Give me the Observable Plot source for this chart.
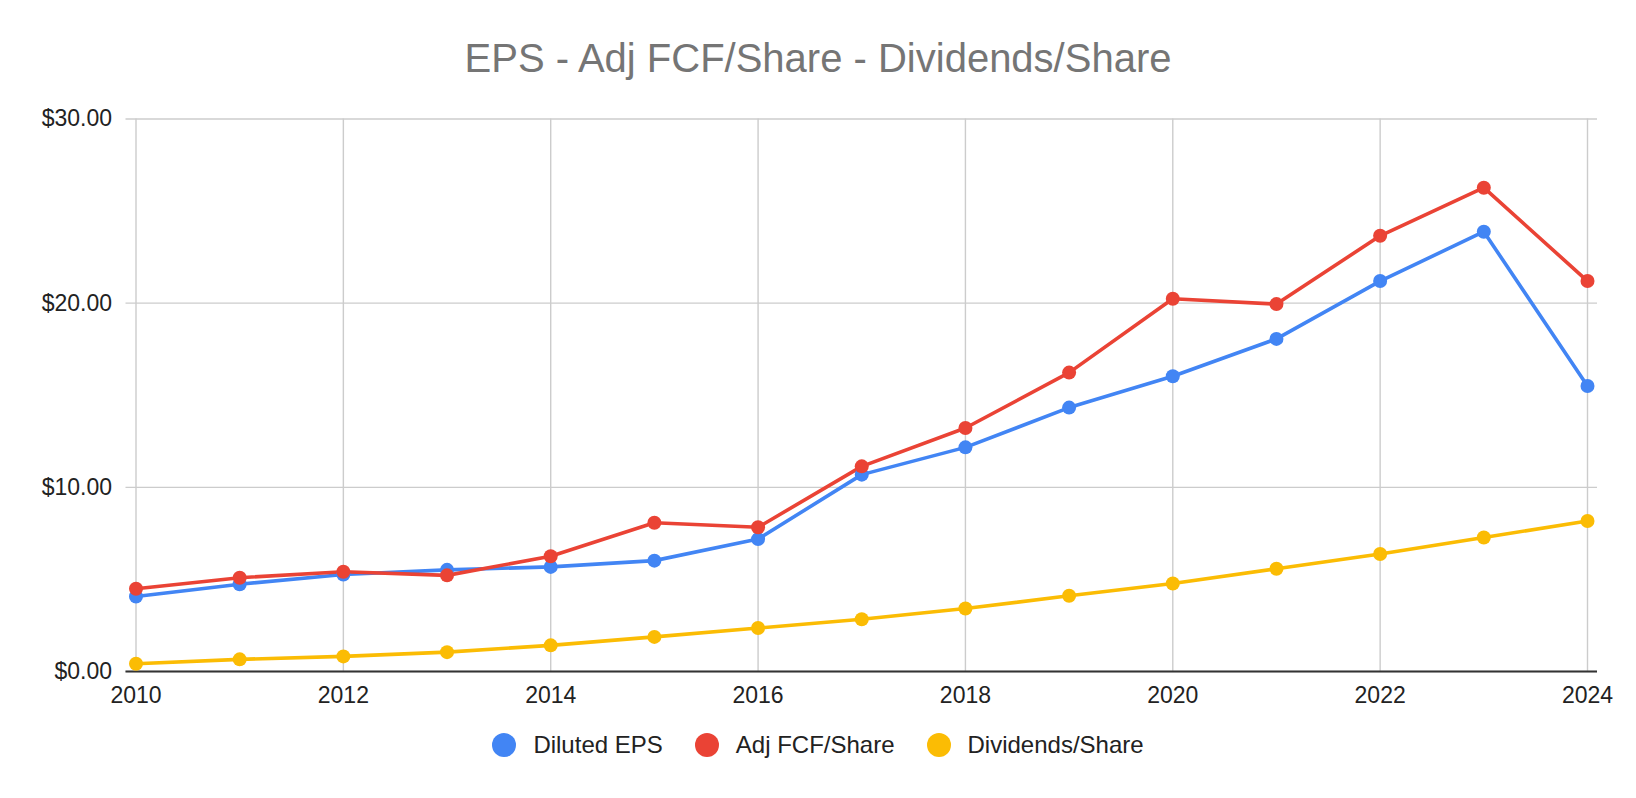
<!DOCTYPE html>
<html>
<head>
<meta charset="utf-8">
<script src="https://cdn.jsdelivr.net/npm/d3@7"></script>
<script src="https://cdn.jsdelivr.net/npm/@observablehq/plot@0.6"></script>
<style>
  html, body { margin: 0; padding: 0; background: #fff; }
  body { width: 1636px; height: 798px; position: relative; overflow: hidden; font-family: "Liberation Sans", Arial, sans-serif; }
  #title { position: absolute; left: 0; top: 38px; width: 1636px; text-align: center; font-size: 40px; line-height: 40px; color: #757575; white-space: nowrap; }
  #chart { position: absolute; left: 0; top: 100px; }
  #legend { position: absolute; left: 0; top: 731px; width: 1636px; height: 28px; display: flex; justify-content: center; align-items: center; font-size: 24px; color: #222; }
  .item { display: flex; align-items: center; margin: 0 16px; }
  .dot { width: 24px; height: 24px; border-radius: 50%; margin-right: 17px; }
</style>
</head>
<body>
<div id="title">EPS - Adj FCF/Share - Dividends/Share</div>
<div id="chart"></div>
<div id="legend"></div>
<script>
const years = [2010, 2011, 2012, 2013, 2014, 2015, 2016, 2017, 2018, 2019, 2020, 2021, 2022, 2023, 2024];
const dilutedEPS = [4.07, 4.74, 5.27, 5.52, 5.68, 6.02, 7.19, 10.69, 12.17, 14.33, 16.03, 18.06, 21.2, 23.88, 15.5];
const adjFCFPerShare = [4.49, 5.09, 5.42, 5.22, 6.26, 8.08, 7.83, 11.14, 13.22, 16.23, 20.24, 19.95, 23.66, 26.27, 21.2];
const dividendsPerShare = [0.42, 0.66, 0.82, 1.05, 1.42, 1.88, 2.36, 2.84, 3.42, 4.11, 4.78, 5.58, 6.38, 7.28, 8.17];
const seriesNames = ["Diluted EPS", "Adj FCF/Share", "Dividends/Share"];
const seriesColors = ["#4285F4", "#EA4335", "#FBBC04"];
const xTicks = [2010, 2012, 2014, 2016, 2018, 2020, 2022, 2024];
const yTicks = [0, 10, 20, 30];

const seriesValues = [dilutedEPS, adjFCFPerShare, dividendsPerShare];
const data = seriesNames.flatMap((name, i) => years.map((year, j) => ({series: name, year, value: seriesValues[i][j]})));

const chart = Plot.plot({
  width: 1636,
  height: 620,
  marginLeft: 125.5,
  marginRight: 39,
  marginTop: 18.5,
  marginBottom: 49,
  style: {fontFamily: "'Liberation Sans', Arial, sans-serif", fontSize: "23px", color: "#222", background: "transparent"},
  x: {domain: [2010, 2024], inset: 10, label: null},
  y: {domain: [0, 30], label: null},
  color: {domain: seriesNames, range: seriesColors},
  marks: [
    Plot.gridY(yTicks, {stroke: "#cccccc", strokeOpacity: 1, strokeWidth: 1.4}),
    Plot.gridX(xTicks, {stroke: "#cccccc", strokeOpacity: 1, strokeWidth: 1.4}),
    Plot.axisY(yTicks, {tickSize: 0, tickPadding: 14, tickFormat: d => "$" + d.toFixed(2), fontSize: 23, fill: "#222"}),
    Plot.axisX(xTicks, {tickSize: 0, tickPadding: 15.5, tickFormat: d => String(d), fontSize: 23, fill: "#222"}),
    Plot.ruleY([0], {stroke: "#333", strokeWidth: 1.8}),
    Plot.line(data, {x: "year", y: "value", z: "series", stroke: "series", strokeWidth: 3.6}),
    Plot.dot(data, {x: "year", y: "value", fill: "series", r: 7, stroke: "none"})
  ]
});
document.getElementById("chart").appendChild(chart);

const legend = document.getElementById("legend");
seriesNames.forEach((name, i) => {
  const item = document.createElement("div");
  item.className = "item";
  const dot = document.createElement("span");
  dot.className = "dot";
  dot.style.background = seriesColors[i];
  const label = document.createElement("span");
  label.textContent = name;
  item.appendChild(dot);
  item.appendChild(label);
  legend.appendChild(item);
});
</script>
</body>
</html>
